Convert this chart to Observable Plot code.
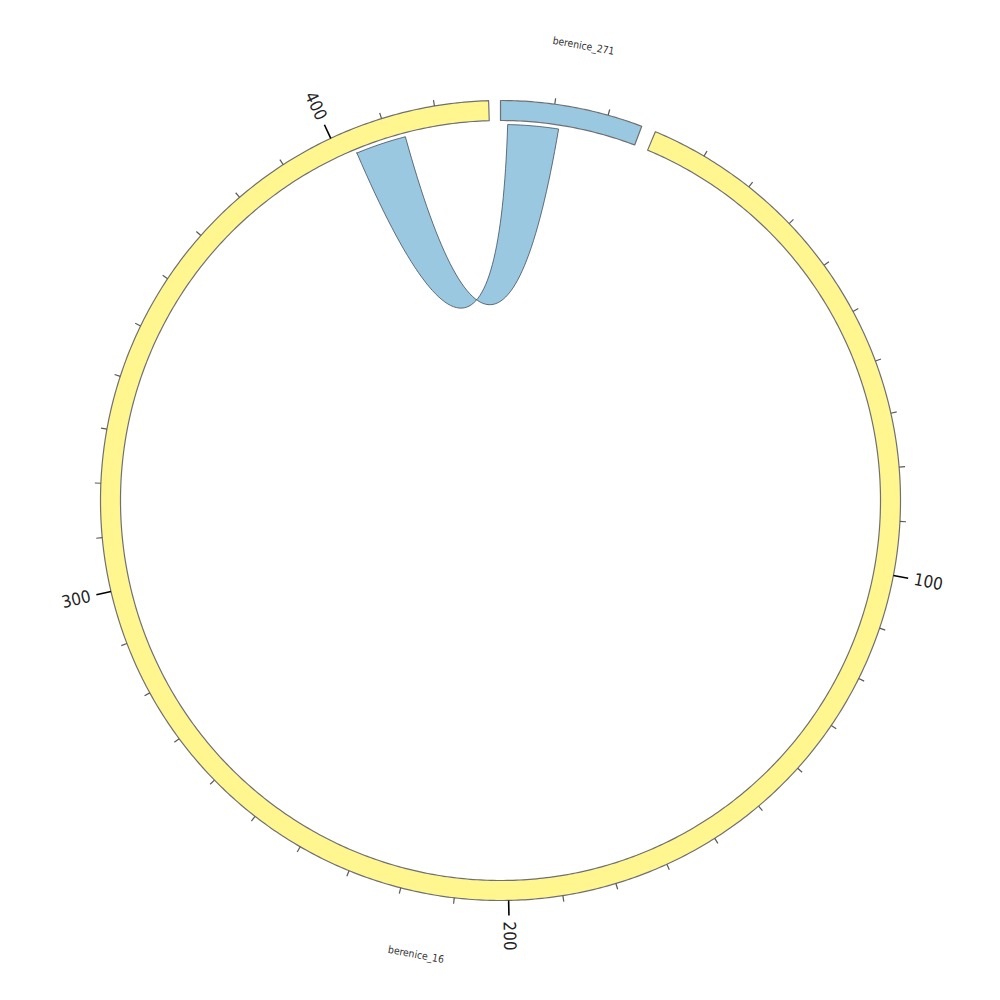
<!DOCTYPE html>
<html>
<head>
<meta charset="utf-8">
<script src="https://cdn.jsdelivr.net/npm/d3@7"></script>
<script src="https://cdn.jsdelivr.net/npm/@observablehq/plot@0.6"></script>
<style>
  html, body { margin: 0; padding: 0; background: #fff; }
  #chart svg { display: block; }
</style>
</head>
<body>
<div id="chart"></div>
<script>
// ---------------- data ----------------
const segNames   = ["berenice_271", "berenice_16"];
const segLengths = [26.5, 430];
const segColors  = ["#9bc8e1", "#fff68f"];
const segGapsAfter = [2.1, 1.7];          // degrees of gap after each segment

const linkSegs   = ["berenice_16", "berenice_271"];
const linkStarts = [403.4, 1.4];
const linkEnds   = [413.4, 11.4];
const linkColor  = "#9bc8e1";

const majorTickValues = [100, 200, 300, 400];
const majorTickLabels = ["100", "200", "300", "400"];
const minorTickStep = 10;

// ---------------- geometry ----------------
const R_OUT = 400, R_IN = 380, R_LINK = 376, R_CTRL = 24;
const R_MINOR = 406, R_MAJOR = 415, R_TLABEL = 421, R_SLABEL = 462;

const total = d3.sum(segLengths);
const degPerUnit = (360 - d3.sum(segGapsAfter)) / total;
const segStart = {};
{
  let a = 0;
  segNames.forEach((n, i) => { segStart[n] = a; a += segLengths[i] * degPerUnit + segGapsAfter[i]; });
}
const segLen = Object.fromEntries(segNames.map((n, i) => [n, segLengths[i]]));
const ang = (seg, pos) => segStart[seg] + pos * degPerUnit;
const rad = d => d * Math.PI / 180;
const P = (r, deg) => ({x: r * Math.sin(rad(deg)), y: -r * Math.cos(rad(deg))});

function arcPts(r, a0, a1, step = 0.5) {
  const n = Math.max(2, Math.ceil(Math.abs(a1 - a0) / step));
  return d3.range(n + 1).map(i => P(r, a0 + (a1 - a0) * i / n));
}

// ring polygons
const ringMarks = segNames.map((n, i) => {
  const a0 = ang(n, 0), a1 = ang(n, segLen[n]);
  const pts = [...arcPts(R_OUT, a0, a1), ...arcPts(R_IN, a1, a0)];
  return Plot.line(pts, {x: "x", y: "y", curve: "linear-closed", fill: segColors[i], stroke: "#707070", strokeWidth: 1.2});
});

// link ribbon (twisted: start->start, end->end)
function bezier(p0, c, p2, n = 60) {
  return d3.range(n + 1).map(i => {
    const t = i / n, u = 1 - t;
    return {x: u*u*p0.x + 2*u*t*c.x + t*t*p2.x, y: u*u*p0.y + 2*u*t*c.y + t*t*p2.y};
  });
}
function midAngle(a, b) {
  let d = ((b - a) % 360 + 540) % 360 - 180;
  return a + d / 2;
}
const la0 = ang(linkSegs[0], linkStarts[0]), la1 = ang(linkSegs[0], linkEnds[0]);
const lb0 = ang(linkSegs[1], linkStarts[1]), lb1 = ang(linkSegs[1], linkEnds[1]);
const linkPts = [
  ...arcPts(R_LINK, la0, la1),
  ...bezier(P(R_LINK, la1), P(R_CTRL, midAngle(la1, lb1)), P(R_LINK, lb1)),
  ...arcPts(R_LINK, lb1, lb0),
  ...bezier(P(R_LINK, lb0), P(R_CTRL, midAngle(lb0, la0)), P(R_LINK, la0))
];

// ticks
const minorTicks = [], majorTicks = [];
segNames.forEach(n => {
  for (let v = minorTickStep; v < segLen[n]; v += minorTickStep) {
    const a = ang(n, v);
    const isMajor = majorTickValues.includes(v);
    const p1 = P(R_OUT, a), p2 = P(isMajor ? R_MAJOR : R_MINOR, a);
    const t = {x1: p1.x, y1: p1.y, x2: p2.x, y2: p2.y, a, v};
    if (isMajor) {
      const lp = P(R_TLABEL, a);
      const right = a < 180;
      majorTicks.push({...t, lx: lp.x, ly: lp.y, right,
        rot: right ? a - 90 : a - 270,
        label: majorTickLabels[majorTickValues.indexOf(v)]});
    } else minorTicks.push(t);
  }
});

// segment labels
const segLabels = segNames.map(n => {
  const a = ang(n, segLen[n] / 2);
  const p = P(R_SLABEL, a);
  const rot = (a > 90 && a < 270) ? a - 180 : a;
  return {name: n, x: p.x, y: p.y, rot};
});

const font = "'Liberation Sans Narrow', 'DejaVu Sans Condensed', 'Liberation Sans', sans-serif";

const chart = Plot.plot({
  width: 1000, height: 1000,
  margin: 0,
  x: {domain: [-500, 500], range: [0, 1000], axis: null},
  y: {domain: [-500, 500], range: [0, 1000], axis: null},
  style: {background: "#fff"},
  marks: [
    ...ringMarks,
    Plot.line(linkPts, {x: "x", y: "y", curve: "linear-closed", fill: linkColor, stroke: "#2e3b48", strokeWidth: 0.7}),
    Plot.link(minorTicks, {x1: "x1", y1: "y1", x2: "x2", y2: "y2", stroke: "#5a5a5a", strokeWidth: 1.2}),
    Plot.link(majorTicks, {x1: "x1", y1: "y1", x2: "x2", y2: "y2", stroke: "#000", strokeWidth: 1.6}),
    Plot.text(majorTicks.filter(d => d.right), {x: "lx", y: "ly", text: "label", rotate: "rot", textAnchor: "start", fontSize: 17, fontFamily: font, fill: "#222"}),
    Plot.text(majorTicks.filter(d => !d.right), {x: "lx", y: "ly", text: "label", rotate: "rot", textAnchor: "end", fontSize: 17, fontFamily: font, fill: "#222"}),
    Plot.text(segLabels, {x: "x", y: "y", text: "name", rotate: "rot", textAnchor: "middle", fontSize: 10.3, fontFamily: font, fill: "#333"})
  ]
});
document.getElementById("chart").appendChild(chart);
</script>
</body>
</html>
